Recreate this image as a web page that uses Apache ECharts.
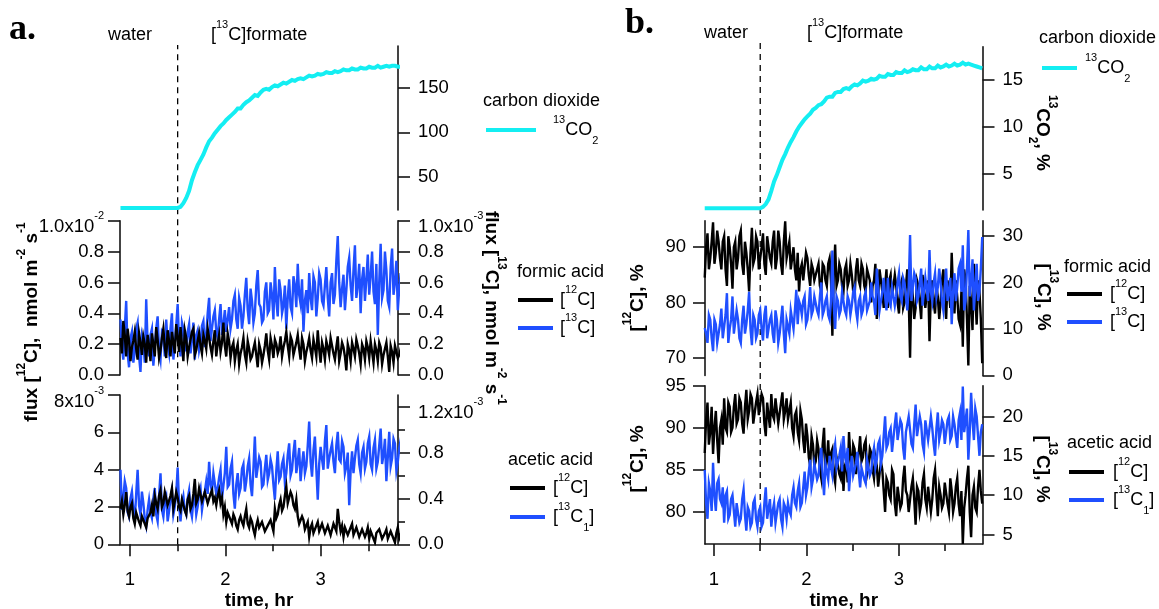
<!DOCTYPE html>
<html><head><meta charset="utf-8">
<script src="https://cdn.jsdelivr.net/npm/echarts@6/dist/echarts.min.js"></script>
<style>html,body{margin:0;padding:0;background:#fff}#c{width:1159px;height:609px}</style>
</head><body><div id="c"></div>
<script>
// ---------- data (time in hr) ----------
const T = [0.90,0.93,0.96,0.99,1.02,1.05,1.08,1.11,1.14,1.17,1.20,1.23,1.26,1.29,1.32,1.35,1.38,1.41,1.44,1.47,1.50,1.53,1.56,1.59,1.62,1.65,1.68,1.71,1.74,1.77,1.80,1.83,1.86,1.89,1.92,1.95,1.98,2.01,2.04,2.07,2.10,2.13,2.16,2.19,2.22,2.25,2.28,2.31,2.34,2.37,2.40,2.43,2.46,2.49,2.52,2.55,2.58,2.61,2.64,2.67,2.70,2.73,2.76,2.79,2.82,2.85,2.88,2.91,2.94,2.97,3.00,3.03,3.06,3.09,3.12,3.15,3.18,3.21,3.24,3.27,3.30,3.33,3.36,3.39,3.42,3.45,3.48,3.51,3.54,3.57,3.60,3.63,3.66,3.69,3.72,3.75,3.78,3.81,3.84,3.87,3.90];
// intermediate sample times of the noisy isotope traces
const T2 = [0.915,0.945,0.975,1.005,1.035,1.065,1.095,1.125,1.155,1.185,
1.215,1.245,1.275,1.305,1.335,1.365,1.395,1.425,1.455,1.485,
1.515,1.545,1.575,1.605,1.635,1.665,1.695,1.725,1.755,1.785,
1.815,1.845,1.875,1.905,1.935,1.965,1.995,2.025,2.055,2.085,
2.115,2.145,2.175,2.205,2.235,2.265,2.295,2.325,2.355,2.385,
2.415,2.445,2.475,2.505,2.535,2.565,2.595,2.625,2.655,2.685,
2.715,2.745,2.775,2.805,2.835,2.865,2.895,2.925,2.955,2.985,
3.015,3.045,3.075,3.105,3.135,3.165,3.195,3.225,3.255,3.285,
3.315,3.345,3.375,3.405,3.435,3.465,3.495,3.525,3.555,3.585,
3.615,3.645,3.675,3.705,3.735,3.765,3.795,3.825,3.855,3.885];
const DASH_T = 1.5;

// panel a: 13CO2
const CO2_A = [14.7,14.7,14.7,14.7,14.7,14.7,14.7,14.7,14.7,14.7,14.7,14.7,14.7,14.7,14.7,14.7,14.7,14.7,14.7,14.7,14.7,
16,20,26,34,46,55,63,69,75,
83,90,94,99,103,107,110,114,117,120,
123,127,127,131,134,136,139,142,141,145,
148,149,148,151,153,152,154,156,155,157,
159,158,160,161,160,162,164,163,164,166,
165,166,168,167,167,169,168,169,171,170,
170,172,171,171,173,172,172,174,173,173,
175,173,174,175,174,175,175,174,174,174,173];
// panel a: formic acid flux, 12C (x1e-2) and 13C (x1e-3)
const FA12_A = [0.24,0.35,0.12,0.22,0.18,0.28,0.10,0.21,0.25,0.08,
0.19,0.27,0.12,0.23,0.16,0.30,0.11,0.22,0.28,0.14,
0.25,0.31,0.09,0.24,0.18,0.28,0.13,0.22,0.19,0.26,
0.17,0.24,0.13,0.29,0.20,0.15,0.34,0.12,0.22,0.18,
0.09,0.20,0.14,0.24,0.08,0.17,0.12,0.21,0.05,0.16,
0.13,0.27,0.10,0.19,0.23,0.14,0.25,0.18,0.28,0.12,
0.22,0.17,0.26,0.10,0.20,0.15,0.24,0.11,0.18,0.29,
0.08,0.17,0.22,0.13,0.19,0.10,0.25,0.14,0.18,0.03,
0.16,0.21,0.12,0.19,0.07,0.17,0.22,0.11,0.15,0.20,
0.09,0.18,0.13,0.21,0.02,0.15,0.19,0.11,0.17,0.14,0.12];
const FA12_A_M = [0.14,0.26,0.30,0.09,0.22,0.17,0.27,0.13,0.20,0.26,
0.09,0.20,0.31,0.11,0.24,0.18,0.29,0.12,0.21,0.33,
0.15,0.20,0.29,0.12,0.23,0.30,0.16,0.27,0.14,0.22,
0.30,0.18,0.22,0.12,0.26,0.21,0.19,0.27,0.11,0.21,
0.16,0.07,0.18,0.13,0.22,0.10,0.17,0.13,0.20,0.08,
0.19,0.16,0.24,0.11,0.20,0.17,0.12,0.22,0.19,0.25,
0.13,0.21,0.17,0.24,0.09,0.19,0.16,0.23,0.12,0.17,
0.21,0.10,0.18,0.24,0.14,0.18,0.09,0.21,0.12,0.20,
0.09,0.17,0.23,0.14,0.20,0.10,0.18,0.22,0.08,0.16,
0.21,0.07,0.17,0.12,0.19,0.08,0.20,0.13,0.21,0.17];
const FA13_A = [0.36,0.10,0.48,0.05,0.28,0.15,0.34,0.02,0.22,0.49,
0.12,0.30,0.18,0.38,0.10,0.26,0.36,0.14,0.40,0.20,
0.46,0.12,0.30,0.18,0.33,0.22,0.10,0.29,0.21,0.35,
0.26,0.50,0.30,0.42,0.24,0.46,0.33,0.28,0.44,0.36,
0.52,0.30,0.45,0.38,0.63,0.33,0.48,0.40,0.68,0.44,
0.36,0.60,0.42,0.52,0.70,0.38,0.55,0.45,0.30,0.62,
0.40,0.58,0.72,0.46,0.28,0.55,0.66,0.42,0.60,0.50,
0.62,0.45,0.70,0.38,0.66,0.52,0.90,0.44,0.65,0.55,
0.76,0.48,0.84,0.58,0.40,0.70,0.62,0.52,0.80,0.46,
0.26,0.85,0.55,0.68,0.44,0.82,0.60,0.42,0.66,0.58,0.50];
const FA13_A_M = [0.18,0.30,0.14,0.24,0.08,0.30,0.12,0.26,0.08,0.20,
0.26,0.06,0.30,0.16,0.28,0.12,0.20,0.30,0.10,0.32,
0.22,0.34,0.16,0.28,0.14,0.34,0.26,0.16,0.32,0.18,
0.40,0.22,0.38,0.28,0.36,0.26,0.42,0.36,0.30,0.48,
0.36,0.50,0.30,0.52,0.42,0.56,0.34,0.58,0.46,0.34,
0.54,0.40,0.60,0.36,0.48,0.62,0.40,0.58,0.50,0.44,
0.64,0.44,0.52,0.62,0.48,0.40,0.50,0.64,0.38,0.66,
0.48,0.58,0.50,0.60,0.46,0.74,0.60,0.56,0.42,0.70,
0.58,0.68,0.50,0.72,0.62,0.48,0.78,0.64,0.54,0.72,
0.60,0.50,0.80,0.48,0.70,0.52,0.74,0.56,0.46,0.70];
// panel a: acetic acid flux, 12C (x1e-3) and 13C1 (x1e-3)
const AA12_A = [1.9,1.6,2.8,1.5,2.2,1.1,1.8,1.0,1.6,0.9,
1.3,2.1,2.6,1.9,2.9,2.2,2.7,2.0,3.0,2.3,
2.5,1.8,2.3,1.6,2.6,2.1,3.5,2.4,2.9,2.2,
2.7,2.3,2.9,2.5,2.6,2.2,1.6,1.2,1.8,1.1,
1.4,0.8,1.5,1.0,1.9,0.9,1.2,0.5,1.3,0.8,
1.1,0.6,0.9,1.2,1.9,1.6,2.4,2.0,3.1,2.3,
2.6,1.9,1.5,1.0,1.3,0.8,0.4,1.1,0.7,1.2,
0.6,1.0,0.5,0.9,0.6,1.0,1.9,0.7,0.4,0.9,
0.6,1.1,0.5,0.8,0.4,0.9,0.6,0.3,0.8,0.1,
0.5,0.7,0.2,0.8,0.4,0.6,0.1,0.9,0.5,0.6,0.4];
const AA12_A_M = [2.3,2.1,1.8,2.0,1.4,1.7,1.2,1.5,1.1,1.4,
1.7,1.5,2.2,2.6,2.0,2.8,2.1,2.6,1.9,2.8,
2.0,2.4,1.8,2.4,1.9,2.7,2.2,3.0,2.3,2.8,
2.2,2.7,2.3,2.1,2.9,2.5,2.0,1.7,1.3,1.6,
1.0,1.3,1.2,1.5,1.1,1.4,0.8,1.0,0.9,1.2,
0.7,1.0,1.3,0.7,1.4,2.1,1.8,2.6,2.2,2.8,
2.1,2.4,1.1,1.5,0.8,1.2,0.9,0.6,1.0,0.7,
1.1,0.6,1.0,0.5,1.1,0.7,1.2,1.0,0.9,0.5,
0.9,0.5,0.9,0.4,0.8,0.4,0.9,0.7,0.3,0.6,
0.8,0.3,0.6,0.3,0.7,0.3,0.6,0.3,0.8,0.3];
const AA13_A = [0.65,0.41,0.49,0.24,0.46,0.21,0.65,0.26,0.36,0.16,
0.39,0.23,0.49,0.20,0.62,0.24,0.42,0.29,0.47,0.33,
0.67,0.20,0.42,0.26,0.47,0.24,0.42,0.33,0.49,0.39,
0.55,0.72,0.46,0.62,0.49,0.65,0.41,0.85,0.52,0.72,
0.31,0.62,0.49,0.70,0.55,0.75,0.42,0.94,0.59,0.72,
0.52,0.78,0.62,0.68,0.39,0.81,0.59,0.75,0.62,0.88,
0.65,0.91,0.72,0.55,0.81,0.68,1.07,0.59,0.94,0.39,
0.85,0.65,1.04,0.75,0.88,0.62,0.98,0.72,0.85,0.68,
0.34,0.81,0.75,0.91,0.62,0.85,0.72,0.94,0.65,0.91,
0.72,1.01,0.78,0.55,0.98,0.75,0.88,0.72,0.91,0.78,0.85];
const AA13_A_M = [0.30,0.55,0.28,0.40,0.30,0.44,0.34,0.46,0.22,0.30,
0.28,0.40,0.26,0.42,0.30,0.38,0.20,0.40,0.26,0.44,
0.34,0.36,0.30,0.40,0.30,0.38,0.26,0.44,0.30,0.46,
0.44,0.52,0.62,0.44,0.58,0.40,0.62,0.50,0.66,0.44,
0.52,0.44,0.66,0.46,0.68,0.52,0.66,0.58,0.76,0.50,
0.66,0.56,0.74,0.52,0.64,0.56,0.70,0.54,0.78,0.60,
0.80,0.62,0.84,0.70,0.62,0.86,0.72,0.82,0.66,0.70,
0.74,0.90,0.66,0.82,0.72,0.86,0.74,0.90,0.62,0.80,
0.64,0.62,0.86,0.70,0.80,0.66,0.88,0.70,0.84,0.66,
0.86,0.70,0.92,0.76,0.68,0.92,0.64,0.84,0.68,0.92];

// panel b: 13CO2 %
const CO2_B = [1.35,1.35,1.35,1.35,1.35,1.35,1.35,1.35,1.35,1.35,1.35,1.35,1.35,1.35,1.35,1.35,1.35,1.35,1.35,1.35,1.35,
1.5,1.8,2.3,3.2,4.2,4.9,5.7,6.5,7.1,
7.8,8.4,8.9,9.5,10.0,10.4,10.8,11.1,11.4,11.8,
12.0,12.3,12.4,12.7,13.1,13.2,13.2,13.6,13.7,13.7,
14.0,14.1,14.0,14.3,14.5,14.4,14.6,14.9,14.8,14.9,
15.1,15.0,15.1,15.4,15.3,15.3,15.6,15.5,15.5,15.8,
15.7,15.7,16.0,15.8,15.9,16.1,16.0,16.0,16.3,16.1,
16.1,16.4,16.2,16.2,16.5,16.3,16.4,16.6,16.4,16.5,
16.7,16.5,16.6,16.8,16.6,16.7,16.6,16.5,16.4,16.3,16.2];
// panel b: formic acid, [12C] % and [13C] %
const FA12_B = [84.5,92.5,88,94.5,89,91,86,92,83,90,
82.5,91,88,93,85,89,82,93.5,88,91,
86,92.5,85,90,87,93,88,91,85,94.7,
88,86,90,84,82,87,84,88,83,86,
84,87,82,86.5,83,88,74,90.5,84,86,
82,87,84,85,81,88,83,86,82,85,
80,84,77,86,82,83,79,85,81,83,
78,84,80,86,70,81,79,83,77,82,
79,73,84,78,81,80,86,77,82,89,
78,81,76,72,84,68.6,80,87,76,82,69];
const FA12_B_M = [90,86,91,87,93,88,91,86,92,87,
90,86,92,87,91,86,89,87,92,86,
90,87,92,88,91,86,93,87,91,88,
91,88,86,89,86,84,89,85,87,84,
86,83,87,84,87,84,85,83,87,83,
86,83,87,82,86,84,87,83,86,84,
83,87,81,84,79,86,84,81,85,80,
83,79,83,81,84,77,84,80,85,79,
84,82,80,83,77,84,81,84,79,82,
84,77,82,86,77,83,75,81,84,77];
const FA13_B = [10.2,7,12,5.2,11,9,14.4,8,17.7,10,
17,9,12,7,15,11,18,6.5,12,9,
14,7.5,15,10,13,7,12,9,15,4.8,
12,14,10,18.4,16,13,17,12,19,14,
17,13,20,14,17,12,26.9,10,16,14,
18,13,16,15,19,12,17,14,18,15,
20,16,23,14,18,17,21,15,19,17,
22,16,20,14,30.2,19,21,17,23,18,
21,27,16,22,19,20,14,23,18,11,
22,19,24,28,16,31.3,20,14,24,18,29.8];
const FA13_B_M = [9,13,8,12,7,11,8,13,7,12,
9,14,8,12,9,14,10,13,8,13,
10,13,8,12,9,14,7,12,9,12,
9,12,14,11,15,16,11,15,13,17,
14,17,13,16,13,16,15,17,13,18,
14,17,13,18,14,16,13,17,14,16,
17,13,19,16,21,14,16,19,15,20,
17,21,17,19,16,22,16,20,15,21,
16,18,20,17,23,16,19,16,21,18,
16,23,18,14,23,17,25,19,16,23];
// panel b: acetic acid, [12C] % and [13C1] %
const AA12_B = [87,93,89.5,86.9,92,85.8,91,93.5,89.5,92.5,
90,94,91,93,89.3,94.5,92,93.5,90.5,94,
91.5,93.5,89,92.8,94,91,93.5,90.5,94.2,92,
91,93,89,92,88.5,91,87,89,85.5,88,
86,87.5,84,90,86,85,87.5,83.5,86.5,84,
82.5,86,89.5,85,87.5,84.5,89,86.5,88.5,85.5,
87,84,85.5,83,85,80,83.5,81.5,84.5,79.5,
83,81,85.5,82,80,84,78.5,82.5,81,84.5,
80.5,83,81.5,85,79.5,82,81,83.5,80,82.5,
81,84,79.5,76.2,82,85.5,77,83,80,85,81];
const AA12_B_M = [91,88,92.5,90,88.5,90,88,90,93,89.5,
92.5,90.5,93.5,90.5,92.5,91,94,90.5,93,91.5,
94,90.5,93,90,91.5,93.5,90.5,93,91,93.5,
92,90,91.5,89.5,92,88.5,90.5,86.5,89,85.5,
88.5,85,88,85,88.5,87,84.5,86.5,84.5,87,
85.5,83.5,86.5,88,84.5,87,86,88,84.5,87.5,
85,86.5,83,86,82.5,84,82,85,81,83,
80.5,84,82.5,80,83,81.5,83,80,83.5,81.5,
83,80,84,82,83,80.5,83.5,81,84,80,
83,81,82.5,80.5,84,80,82,80.5,83,82.5];
const AA13_B = [13.2,7,10.5,14.1,8,12,9,6.5,10.5,7.5,
10,6,9,7,10.7,5.5,8,6.5,9.5,6,
8.5,6.5,11,7.2,6,9,6.5,9.5,6,8.5,
9,7.5,11,8.5,11.5,9,13,11,14.5,12,
14,12.5,16,10,14,15,12.5,16.5,13.5,16,
17.5,14,10.5,15,12.5,15.5,11,13.5,11.5,14.5,
13,16,14.5,17,15,20,16.5,18.5,15.5,20.5,
17,19,14.5,18,20,16,21.5,17.5,19,15.5,
19.5,17,18.5,15,20.5,18,19,16.5,20,17.5,
19,16,20.5,23.8,18,14.5,23,17,20,15,19];
const AA13_B_M = [9,11.5,8,10,11.5,9.5,11,10,7,9.5,
8,9,6.5,9.5,7.5,8.5,6,9,7,8,
6,9,7,9.5,8,6.5,9,7,9,7,
8,10,9,10.5,8.5,11,10,13,11,14,
12,14.5,12.5,14,12,13.5,15.5,13.5,15,13,
15,16,13,12.5,14,13,13.5,12,14.5,12.5,
15,13.5,16.5,14,17.5,16,18,15.5,19,17,
19.5,16,18,20,16.5,19,17.5,20,16.5,19.5,
17,20,16.5,18.5,17,19.5,16.5,19.5,17,20,
17.5,19.5,17,18,21,18,19.5,21,17.5,18];

// ---------- tick values ----------
const X_TICKS = [1, 2, 3];
const X_MINOR = [1.5, 2.5, 3.5];
const TK_A_CO2 = [50, 100, 150];
const TK_A_FA = [0, 0.2, 0.4, 0.6, 0.8, 1.0];
const TK_A_AA12 = [0, 2, 4, 6, 8];
const TK_A_AA13 = [0, 0.4, 0.8, 1.2];
const MN_A_AA13 = [0.2, 0.6, 1.0];
const TK_B_CO2 = [5, 10, 15];
const TK_B_FA12 = [70, 80, 90];
const TK_B_FA13 = [0, 10, 20, 30];
const TK_B_AA12 = [80, 85, 90, 95];
const TK_B_AA13 = [5, 10, 15, 20];

// ---------- style ----------
const FF = '"Liberation Sans", Arial, Helvetica, sans-serif';
const TICK = 18.5;
const BLACK = '#000', BLUE = '#1F4FFF', CYAN = '#14EEF2';
const AX = {color: '#151515', width: 1.6};

const RICH_T = {
  t: {fontSize: TICK, fontFamily: FF, color: '#000', lineHeight: 22},
  e: {fontSize: TICK, fontFamily: FF, color: '#000', lineHeight: 22, verticalAlign: 'bottom'},
  es: {fontSize: 11, fontFamily: FF, color: '#000', lineHeight: 13, verticalAlign: 'top', padding: [6, 0, 0, 0]},
  h: {fontSize: 1, fontFamily: FF, color: '#000', lineHeight: 32}
};
function expLabel(mant, ex, side) {
  return side === 'left' ? '{h| }{e|' + mant + '}{es|' + ex + '}' : '{e|' + mant + '}{es|' + ex + '}{h| }';
}
function yAx(gridIndex, position, min, max, ticks, fmt, margin) {
  return {
    type: 'value', gridIndex, position, min, max,
    axisLine: {show: true, onZero: false, lineStyle: AX},
    axisTick: {show: true, length: 12, lineStyle: AX, customValues: ticks},
    axisLabel: {show: true, customValues: ticks, formatter: fmt, margin: margin, color: '#000',
      fontSize: TICK, fontFamily: FF, rich: RICH_T},
    splitLine: {show: false}
  };
}
function minorAx(gridIndex, position, min, max, ticks) {
  return {
    type: 'value', gridIndex, position, min, max,
    axisLine: {show: false}, axisLabel: {show: false}, splitLine: {show: false},
    axisTick: {show: true, length: 7, lineStyle: AX, customValues: ticks}
  };
}
function hidden(gridIndex, min, max) {
  return {type: 'value', gridIndex, min, max, show: false, splitLine: {show: false}};
}
function xBottom(gridIndex, range) {
  return {
    type: 'value', gridIndex, position: 'bottom', min: range[0], max: range[1],
    axisLine: {show: true, onZero: false, lineStyle: AX},
    axisTick: {show: true, length: 12, lineStyle: AX, customValues: X_TICKS},
    axisLabel: {show: true, customValues: X_TICKS, margin: 26, color: '#000', fontSize: TICK, fontFamily: FF,
      formatter: v => String(v)},
    splitLine: {show: false},
    name: 'time, hr', nameLocation: 'middle', nameGap: 47,
    nameTextStyle: {fontSize: 19, fontWeight: 'bold', fontFamily: FF, color: '#000'}
  };
}
const XA = [0.895, 3.812], XB = [0.903, 3.903];
const f1 = v => '{t|' + v.toFixed(1) + '}';
const f0 = v => '{t|' + v + '}';

// build [time, value] pairs from the sample arrays
function pts(a, b) {
  const out = [];
  for (let i = 0; i < T.length; i++) {
    out.push([T[i], a[i]]);
    if (b && i < T2.length) out.push([T2[i], b[i]]);
  }
  return out;
}
function line(name, xi, yi, data, color, w, z) {
  return {name, type: 'line', xAxisIndex: xi, yAxisIndex: yi, data, symbol: 'none', showSymbol: false,
    lineStyle: {color, width: w, join: 'miter'}, itemStyle: {color}, z: z || 2, silent: true, animation: false};
}
function dash(xi, yi) {
  return {type: 'line', xAxisIndex: xi, yAxisIndex: yi, data: [[DASH_T, 0], [DASH_T, 1]], symbol: 'none',
    lineStyle: {color: '#000', width: 1.3, type: [6, 5]}, z: 1, silent: true};
}

// ---------- text helpers (graphic) ----------
function gRich(fs, bold) {
  const w = bold ? 'bold' : 'normal';
  const ss = bold ? 12 : 11;
  return {
    n: {fontSize: fs, fontFamily: FF, fontWeight: w, lineHeight: 32, fill: '#000', color: '#000'},
    s: {fontSize: ss, fontFamily: FF, fontWeight: w, lineHeight: 10, verticalAlign: 'top', fill: '#000', color: '#000'},
    d: {fontSize: ss, fontFamily: FF, fontWeight: w, lineHeight: 21, verticalAlign: 'bottom', fill: '#000', color: '#000'}
  };
}
const R_N = gRich(18, false), R_B = gRich(19, true);
function gtext(x, y, text, o) {
  o = o || {};
  const al = o.align || 'left';
  return {type: 'text', x, y, rotation: o.rot || 0, z: 100, silent: true,
    style: {text, rich: o.rich || R_N, fill: '#000', align: al, textAlign: al,
      verticalAlign: 'middle', textVerticalAlign: 'middle', fontSize: 18, fontFamily: FF}};
}
function gline(x1, y1, x2, color) {
  return {type: 'line', z: 100, silent: true, shape: {x1, y1, x2, y2: y1}, style: {stroke: color, lineWidth: 4}};
}
const S12 = '{n|[}{s|12}{n|C]}', S13 = '{n|[}{s|13}{n|C]}', S13_1 = '{n|[}{s|13}{n|C}{d|1}{n|]}';
const SCO2 = '{s|13}{n|CO}{d|2}', FORM = '{n|[}{s|13}{n|C]formate}';
const H = Math.PI / 2;
const SERIF = 'bold 36px "Liberation Serif", "Times New Roman", serif';

const graphic = [
  {type: 'text', x: 9, y: 30, z: 100, style: {text: 'a.', fill: '#000', font: SERIF, verticalAlign: 'middle', textVerticalAlign: 'middle'}},
  {type: 'text', x: 625, y: 24, z: 100, style: {text: 'b.', fill: '#000', font: SERIF, verticalAlign: 'middle', textVerticalAlign: 'middle'}},
  gtext(130, 35, '{n|water}', {align: 'center'}),
  gtext(211, 35, FORM),
  gtext(726, 33, '{n|water}', {align: 'center'}),
  gtext(807, 33, FORM),
  // axis titles
  gtext(32, 322, '{n|flux [}{s|12}{n|C],  nmol m}{s|-2}{n| s}{s|-1}', {align: 'center', rot: H, rich: R_B}),
  gtext(491, 308, '{n|flux [}{s|13}{n|C], nmol m}{s|-2}{n| s}{s|-1}', {align: 'center', rot: -H, rich: R_B}),
  gtext(638, 298, '{n|[}{s|12}{n|C], %}', {align: 'center', rot: H, rich: R_B}),
  gtext(638, 459, '{n|[}{s|12}{n|C], %}', {align: 'center', rot: H, rich: R_B}),
  gtext(1042, 133, '{s|13}{n|CO}{d|2}{n|, %}', {align: 'center', rot: -H, rich: R_B}),
  gtext(1043, 297, '{n|[}{s|13}{n|C], %}', {align: 'center', rot: -H, rich: R_B}),
  gtext(1042, 469, '{n|[}{s|13}{n|C], %}', {align: 'center', rot: -H, rich: R_B}),
  // legends panel a
  gtext(483, 101, '{n|carbon dioxide}'),
  gline(486, 130, 536, CYAN), gtext(553, 130, SCO2),
  gtext(517, 272, '{n|formic acid}'),
  gline(518, 300, 553, BLACK), gtext(560, 300, S12),
  gline(518, 328, 553, BLUE), gtext(560, 328, S13),
  gtext(508, 460, '{n|acetic acid}'),
  gline(510, 488, 545, BLACK), gtext(553, 488, S12),
  gline(510, 517, 545, BLUE), gtext(553, 517, S13_1),
  // legends panel b
  gtext(1039, 38, '{n|carbon dioxide}'),
  gline(1042, 68, 1077, CYAN), gtext(1085, 68, SCO2),
  gtext(1064, 267, '{n|formic acid}'),
  gline(1067, 294, 1102, BLACK), gtext(1110, 294, S12),
  gline(1067, 322, 1102, BLUE), gtext(1110, 322, S13),
  gtext(1067, 443, '{n|acetic acid}'),
  gline(1069, 472, 1104, BLACK), gtext(1113, 472, S12),
  gline(1069, 500, 1104, BLUE), gtext(1113, 500, S13_1)
];

const G = (left, top, width, height) => ({left, top, width, height, containLabel: false, outerBoundsMode: 'none'});
const option = {
  animation: false,
  backgroundColor: '#fff',
  grid: [
    G(120, 46, 278, 164),       // 0 a CO2
    G(120, 220.7, 278, 154.3),  // 1 a formic
    G(120, 395, 278, 149.3),    // 2 a acetic
    G(120, 45, 278, 499.3),     // 3 a dashed
    G(705, 46.7, 277.5, 163.3), // 4 b CO2
    G(705, 220.7, 277.5, 154.7),// 5 b formic
    G(705, 385.7, 277.5, 158.3),// 6 b acetic
    G(705, 43, 277.5, 501)      // 7 b dashed
  ],
  xAxis: [
    hidden(0, XA[0], XA[1]),
    hidden(1, XA[0], XA[1]),
    xBottom(2, XA),
    minorAx(2, 'bottom', XA[0], XA[1], X_MINOR),
    hidden(3, XA[0], XA[1]),
    hidden(4, XB[0], XB[1]),
    hidden(5, XB[0], XB[1]),
    xBottom(6, XB),
    minorAx(6, 'bottom', XB[0], XB[1], X_MINOR),
    hidden(7, XB[0], XB[1])
  ],
  yAxis: [
    yAx(0, 'right', 12.4, 197.4, TK_A_CO2, f0, 20),
    yAx(1, 'left', 0, 1, TK_A_FA, v => v >= 0.999 ? expLabel('1.0x10', '-2', 'left') : f1(v), 16),
    yAx(1, 'right', 0, 1, TK_A_FA, v => v >= 0.999 ? expLabel('1.0x10', '-3', 'right') : f1(v), 20),
    yAx(2, 'left', 0, 8, TK_A_AA12, v => v === 8 ? expLabel('8x10', '-3', 'left') : f0(v), 16),
    yAx(2, 'right', 0, 1.302, TK_A_AA13, v => v >= 1.19 ? expLabel('1.2x10', '-3', 'right') : f1(v), 20),
    minorAx(2, 'right', 0, 1.302, MN_A_AA13),
    hidden(3, 0, 1),
    yAx(4, 'right', 1.17, 18.5, TK_B_CO2, f0, 20),
    yAx(5, 'left', 66.8, 94.8, TK_B_FA12, f0, 19),
    yAx(5, 'right', 0, 33.3, TK_B_FA13, f0, 20),
    yAx(6, 'left', 76.2, 95, TK_B_AA12, f0, 19),
    yAx(6, 'right', 3.8, 23.9, TK_B_AA13, f0, 20),
    hidden(7, 0, 1)
  ],
  series: [
    dash(4, 6),
    line('13CO2 a', 0, 0, pts(CO2_A), CYAN, 4),
    line('formic 13C a', 1, 2, pts(FA13_A, FA13_A_M), BLUE, 2.4),
    line('formic 12C a', 1, 1, pts(FA12_A, FA12_A_M), BLACK, 2.4, 3),
    line('acetic 13C a', 2, 4, pts(AA13_A, AA13_A_M), BLUE, 2.4),
    line('acetic 12C a', 2, 3, pts(AA12_A, AA12_A_M), BLACK, 2.4, 3),
    dash(9, 12),
    line('13CO2 b', 5, 7, pts(CO2_B), CYAN, 4),
    line('formic 12C b', 6, 8, pts(FA12_B, FA12_B_M), BLACK, 2.4),
    line('formic 13C b', 6, 9, pts(FA13_B, FA13_B_M), BLUE, 2.4, 3),
    line('acetic 12C b', 7, 10, pts(AA12_B, AA12_B_M), BLACK, 2.4),
    line('acetic 13C b', 7, 11, pts(AA13_B, AA13_B_M), BLUE, 2.4, 3)
  ],
  graphic: graphic
};
const chart = echarts.init(document.getElementById('c'), null, {renderer: 'canvas', width: 1159, height: 609});
chart.setOption(option);
</script>
</body></html>
